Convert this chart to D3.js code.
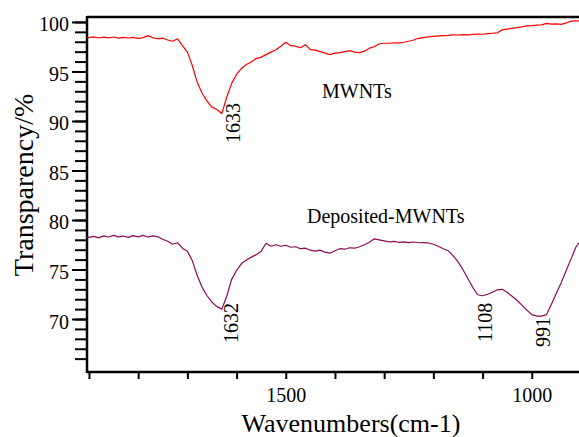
<!DOCTYPE html>
<html>
<head>
<meta charset="utf-8">
<script src="https://cdn.jsdelivr.net/npm/d3@7"></script>
<style>
  body { margin: 0; background: #fff; }
  svg { display: block; }
  svg text { font-family: "Liberation Serif", "Times New Roman", serif; fill: #000; }
</style>
</head>
<body>
<svg id="chart"></svg>
<script>
// FTIR spectra, values
var wavenumbers = [1904,1900,1890,1880,1870,1860,1850,1840,1830,1820,1810,1800,1790,1780,1770,1760,1750,1740,1730,1720,
  1710,1700,1690,1680,1670,1660,1650,1640,1630,1620,1610,1600,1590,1580,1570,1560,1550,1540,1530,1520,
  1510,1500,1490,1480,1470,1460,1450,1440,1430,1420,1410,1400,1390,1380,1370,1360,1350,1340,1330,1320,
  1310,1300,1290,1280,1270,1260,1250,1240,1230,1220,1210,1200,1190,1180,1170,1160,1150,1140,1130,1120,
  1110,1100,1090,1080,1070,1060,1050,1040,1030,1020,1010,1000,990,980,970,960,950,940,930,920,910,904];

var mwnts = [98.45,98.42,98.50,98.38,98.46,98.40,98.48,98.36,98.44,98.38,98.45,98.34,98.42,98.62,98.40,98.30,98.36,98.18,98.05,98.30,
  97.60,96.95,95.60,93.90,92.80,92.00,91.40,91.15,90.75,92.40,93.80,94.70,95.30,95.70,95.95,96.30,96.45,96.70,96.95,97.20,
  97.55,97.95,97.60,97.55,97.40,97.70,97.20,97.15,97.00,96.85,96.70,96.85,96.90,97.00,97.10,96.95,96.90,97.05,97.35,97.50,
  97.80,97.85,97.85,97.90,97.88,97.95,98.05,98.18,98.35,98.42,98.50,98.55,98.60,98.62,98.65,98.70,98.68,98.72,98.70,98.75,
  98.78,98.76,98.82,98.86,98.90,99.20,99.28,99.35,99.42,99.50,99.60,99.62,99.68,99.70,99.85,99.78,99.80,99.76,99.90,100.08,100.10,100.10];

var deposited = [78.30,78.25,78.35,78.20,78.40,78.28,78.45,78.30,78.38,78.25,78.42,78.30,78.45,78.28,78.40,78.30,78.05,77.85,77.55,77.70,
  77.15,76.85,75.90,74.40,73.20,72.35,71.70,71.25,71.00,72.30,74.00,74.90,75.60,75.95,76.25,76.50,76.85,77.65,77.35,77.50,
  77.35,77.45,77.25,77.30,77.10,77.15,76.95,76.85,76.95,76.75,76.65,76.90,77.10,77.05,77.20,77.15,77.30,77.50,77.75,78.10,
  78.00,77.90,77.80,77.85,77.75,77.80,77.72,77.78,77.70,77.72,77.68,77.55,77.35,77.10,76.90,76.40,75.80,75.00,74.10,73.20,
  72.45,72.35,72.50,72.70,72.95,73.00,72.70,72.30,71.90,71.40,70.90,70.45,70.30,70.30,70.45,71.50,72.60,73.70,74.90,76.10,77.30,77.70];

var seriesNames = ["MWNTs", "Deposited-MWNTs"];
var seriesColors = ["#ff0000", "#8c0a55"];
var peakLabels = [[1633, "1633"], [1632, "1632"], [1108, "1108"], [991, "991"]];
var yMajor = [70, 75, 80, 85, 90, 95, 100];
var yMinor = d3.range(66, 101);
var xTicks = [1900,1800,1700,1600,1500,1400,1300,1200,1100,1000];
var xLabelled = [1500, 1000];

var W = 579, H = 437;
var mLeft = 87, mRight = 579, mTop = 17, mBottom = 372;
var serif = "Liberation Serif";

var svg = d3.select("#chart")
    .attr("width", W)
    .attr("height", H)
    .style("background-color", "white");

var x = d3.scaleLinear().domain([1904, 904]).range([mLeft, mRight]);
var y = d3.scaleLinear().domain([64.65, 100.5]).range([mBottom, mTop]);

// y axis: minor and major ticks pointing out
var yAxisMinor = d3.axisLeft(y).tickValues(yMinor).tickSize(12).tickFormat("");
var yAxisMajor = d3.axisLeft(y).tickValues(yMajor).tickSize(15).tickPadding(3).tickFormat(d3.format("d"));

svg.append("g").attr("transform", "translate(" + mLeft + ",0)").call(yAxisMinor)
    .call(function(g){ g.select(".domain").remove(); g.selectAll("line").attr("stroke-width", 2); });
svg.append("g").attr("transform", "translate(" + mLeft + ",0)").call(yAxisMajor)
    .attr("font-family", serif).attr("font-size", 20)
    .call(function(g){
        g.select(".domain").remove();
        g.selectAll("line").attr("stroke-width", 2);
        g.selectAll("text").attr("dy", "0.45em");
    });

// x axis
var xAxis = d3.axisBottom(x).tickValues(xTicks).tickSize(7).tickPadding(9)
    .tickFormat(function(d){ return xLabelled.indexOf(d) >= 0 ? d : ""; });
svg.append("g").attr("transform", "translate(0," + mBottom + ")").call(xAxis)
    .attr("font-family", serif).attr("font-size", 20)
    .call(function(g){
        g.select(".domain").remove();
        g.selectAll("line").attr("stroke-width", 2);
    });

// frame lines: left, bottom, top
svg.append("line").attr("x1", mLeft).attr("x2", mLeft).attr("y1", mTop - 1).attr("y2", mBottom + 1)
    .attr("stroke", "black").attr("stroke-width", 2.5);
svg.append("line").attr("x1", mLeft).attr("x2", mRight).attr("y1", mBottom).attr("y2", mBottom)
    .attr("stroke", "black").attr("stroke-width", 2.5);
svg.append("line").attr("x1", mLeft).attr("x2", mRight).attr("y1", mTop).attr("y2", mTop)
    .attr("stroke", "black").attr("stroke-width", 2.5);

// spectra
var line = d3.line()
    .x(function(d){ return x(d[0]); })
    .y(function(d){ return y(d[1]); });

[mwnts, deposited].forEach(function(vals, i){
    svg.append("path")
        .datum(d3.zip(wavenumbers, vals))
        .attr("fill", "none")
        .attr("stroke", seriesColors[i])
        .attr("stroke-width", 1.2)
        .attr("stroke-linejoin", "round")
        .attr("d", line);
});

// series names
svg.append("text").text(seriesNames[0])
    .attr("x", 322).attr("y", 98).attr("font-family", serif).style("font-size", "20px");
svg.append("text").text(seriesNames[1])
    .attr("x", 307).attr("y", 223).attr("font-family", serif).style("font-size", "20px");

// peak labels, rotated
var peakPos = [[240, 143], [238, 343], [492, 342], [550, 347]];
peakLabels.forEach(function(p, i){
    svg.append("text").text(p[1])
        .attr("transform", "translate(" + peakPos[i][0] + "," + peakPos[i][1] + ") rotate(-90)")
        .attr("font-family", serif)
        .style("font-size", "20px");
});

// axis titles
svg.append("text").text("Wavenumbers(cm-1)")
    .attr("x", 351).attr("y", 432)
    .attr("text-anchor", "middle")
    .attr("font-family", serif)
    .style("font-size", "26px");

svg.append("text").text("Transparency/%")
    .attr("transform", "translate(33,185) rotate(-90)")
    .attr("text-anchor", "middle")
    .attr("font-family", serif)
    .style("font-size", "28px");
</script>
</body>
</html>
